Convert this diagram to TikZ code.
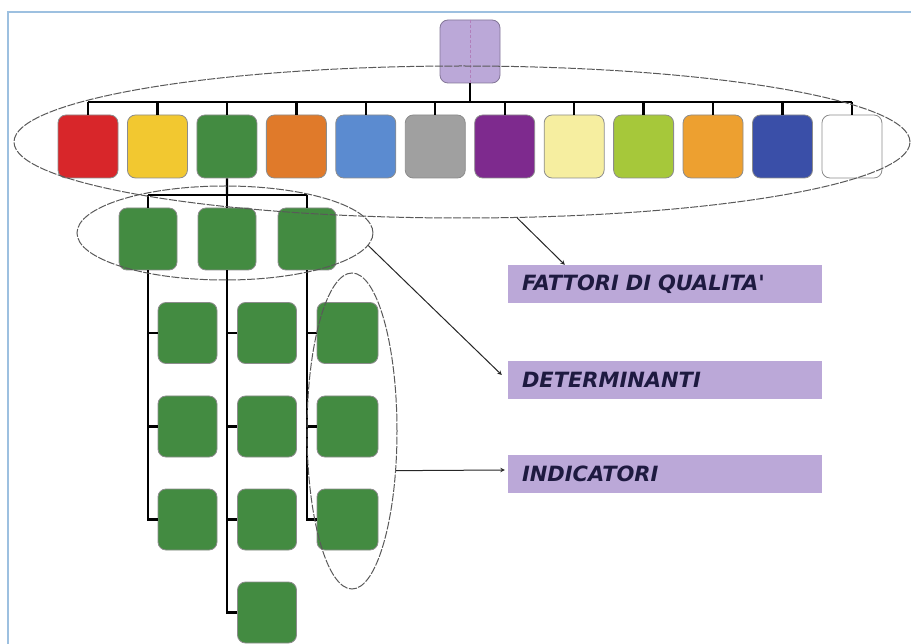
\documentclass[tikz,border=0pt]{standalone}
\usepackage{fontspec}
\usepackage{tikz}
\usetikzlibrary{shapes.geometric}
\newfontfamily\labfont{DejaVu Sans}
\definecolor{qlilac}{HTML}{BBA8D8}
\definecolor{qnavy}{HTML}{1E1A40}
\definecolor{qframe}{HTML}{9DC0E0}
\definecolor{qred}{HTML}{D8262A}
\definecolor{qyellow}{HTML}{F2C830}
\definecolor{qgreen}{HTML}{438B41}
\definecolor{qorange}{HTML}{E07A2A}
\definecolor{qblue}{HTML}{5B8BD0}
\definecolor{qgray}{HTML}{A0A0A0}
\definecolor{qpurple}{HTML}{7E2A8E}
\definecolor{qcream}{HTML}{F6EEA0}
\definecolor{qlime}{HTML}{A6C83A}
\definecolor{qamber}{HTML}{EDA030}
\definecolor{qdeepblue}{HTML}{3A4FA8}

\begin{document}
\begin{tikzpicture}[x=1pt, y=-1pt,
	fbox/.style={rectangle, rounded corners=8pt, draw=black!45, line width=0.8pt, minimum width=60pt, minimum height=63pt, inner sep=0pt},
	gbox/.style={fbox, fill=qgreen, minimum width=59pt, minimum height=61pt},
	conn/.style={line width=2.3pt, black},
	oval/.style={ellipse, draw=black!65, line width=1pt, dash pattern=on 8pt off 1.5pt, inner sep=0pt},
	lab/.style={rectangle, fill=qlilac, minimum height=38pt, text width=286pt, inner xsep=14pt, align=left, text=qnavy, font=\labfont\bfseries\itshape\fontsize{21}{21}\selectfont},
	arr/.style={->, >=stealth, black!85, line width=1pt}]
	\useasboundingbox (0,0) rectangle (911,644);
	\draw[line width=2pt, qframe] (8,644) -- (8,12) -- (911,12);
	%
	\node[fbox, fill=qlilac, draw=qlilac!70!black] (root) at (470,51.5) {};
	\draw[densely dashed, qpurple!60, line width=1pt] (root.north) -- (root.south);
	%
	\foreach \c [count=\i] in {qred,qyellow,qgreen,qorange,qblue,qgray,qpurple,qcream,qlime,qamber,qdeepblue,white}
		\node[fbox, fill=\c] (f\i) at ({88+69.45*(\i-1)}, 146.5) {};
	\coordinate (top) at (470,102);
	\draw[conn] (root.south) -- (top);
	\draw[conn] (f1.north |- top) -- (f12.north |- top);
	\foreach \i in {1,...,12}
		\draw[conn] (f\i.north |- top) -- (f\i.north);
	%
	\node[gbox, minimum width=58pt, minimum height=62pt] (d1) at (148,239) {};
	\node[gbox, minimum width=58pt, minimum height=62pt] (d2) at (227,239) {};
	\node[gbox, minimum width=58pt, minimum height=62pt] (d3) at (307,239) {};
	\coordinate (mid) at (227,195);
	\draw[conn] (f3.south) -- (mid);
	\draw[conn] (d1.north |- mid) -- (d3.north |- mid);
	\foreach \i in {1,2,3}
		\draw[conn] (d\i.north |- mid) -- (d\i.north);
	%
	\foreach \y [count=\i] in {333,426.5,519.5}
		\node[gbox] (a\i) at (187.5,\y) {};
	\foreach \y [count=\i] in {333,426.5,519.5,612.5}
		\node[gbox] (b\i) at (267,\y) {};
	\foreach \y [count=\i] in {333,426.5,519.5}
		\node[gbox, minimum width=61pt] (c\i) at (347.5,\y) {};
	\draw[conn] (d1.south) |- (a3.west);
	\draw[conn] (d2.south) |- (b4.west);
	\draw[conn] (d3.south) |- (c3.west);
	\foreach \i in {1,2} {
		\draw[conn] (d1.south |- a\i.west) -- (a\i.west);
		\draw[conn] (d3.south |- c\i.west) -- (c\i.west);
	}
	\foreach \i in {1,2,3}
		\draw[conn] (d2.south |- b\i.west) -- (b\i.west);
	%
	\node[oval, minimum width=896pt, minimum height=152pt] (fq) at (462,142) {};
	\node[oval, minimum width=296pt, minimum height=94pt] (dt) at (225,233) {};
	\node[oval, minimum width=90pt, minimum height=316pt] (ic) at (352,431) {};
	%
	\node[lab] (qlab) at (665,284) {FATTORI DI QUALITA'};
	\node[lab] (dlab) at (665,380) {DETERMINANTI};
	\node[lab] (ilab) at (665,474) {INDICATORI};
	\draw[arr] (fq.-54) -- ([xshift=57pt]qlab.north west);
	\draw[arr] (dt.-5) -- ([xshift=-6pt,yshift=5pt]dlab.west);
	\draw[arr] (ic.-42) -- ([xshift=-3pt,yshift=4pt]ilab.west);
\end{tikzpicture}
\end{document}
